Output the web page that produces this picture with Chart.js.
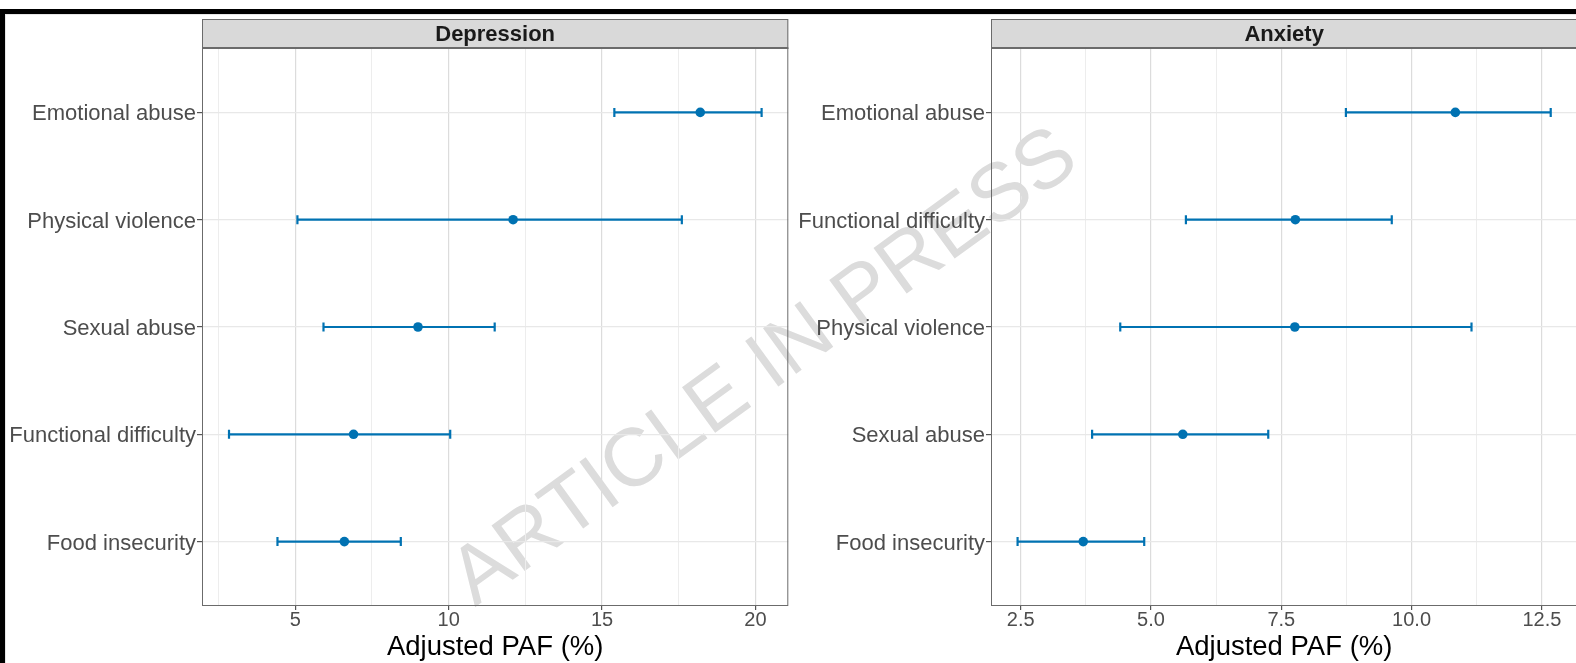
<!DOCTYPE html>
<html><head><meta charset="utf-8">
<script src="https://cdn.jsdelivr.net/npm/chart.js@4.4.1/dist/chart.umd.min.js"></script>
<style>
html,body{margin:0;padding:0;width:1576px;height:663px;overflow:hidden;background:#fff;}
body{position:relative;font-family:"Liberation Sans",Arial,sans-serif;}
#wm{position:absolute;left:762px;top:364px;transform:translate(-50%,-50%) rotate(-36deg);font-size:82px;color:#dcdcdc;white-space:nowrap;z-index:0;line-height:1;}
canvas{position:absolute;top:0;z-index:1;}
#c1{left:0;}
#c2{left:790px;}
#topbar{position:absolute;left:0;top:9px;width:1576px;height:5px;background:#000;z-index:2;}
#topline{position:absolute;left:5px;top:14px;width:1571px;height:1px;background:#e6e6e6;z-index:2;}
#leftbar{position:absolute;left:0;top:9px;width:5px;height:654px;background:#000;z-index:2;}
#leftline{position:absolute;left:5px;top:14px;width:1px;height:649px;background:#e6e6e6;z-index:2;}
</style>
</head>
<body>
<div id="wm">ARTICLE IN PRESS</div>
<canvas id="c1" width="795" height="663"></canvas>
<canvas id="c2" width="794" height="663"></canvas>
<div id="topbar"></div><div id="topline"></div><div id="leftbar"></div><div id="leftline"></div>
<script>
// ---- Data ----
const depCategories = ["Emotional abuse", "Physical violence", "Sexual abuse", "Functional difficulty", "Food insecurity"];
const depEstimate = [18.2, 12.1, 9.0, 6.9, 6.6];
const depLower = [15.4, 5.07, 5.92, 2.84, 4.42];
const depUpper = [20.2, 17.6, 11.5, 10.05, 8.44];

const anxCategories = ["Emotional abuse", "Functional difficulty", "Physical violence", "Sexual abuse", "Food insecurity"];
const anxEstimate = [10.84, 7.77, 7.76, 5.61, 3.70];
const anxLower = [8.74, 5.67, 4.41, 3.87, 2.44];
const anxUpper = [12.67, 9.62, 11.15, 7.25, 4.87];

const depMajorTicks = [5, 10, 15, 20];
const depMinorTicks = [2.5, 7.5, 12.5, 17.5];
const anxMajorTicks = [2.5, 5.0, 7.5, 10.0, 12.5];
const anxMinorTicks = [3.75, 6.25, 8.75, 11.25];

const xTitle = "Adjusted PAF (%)";
// ---------------

const FAMILY = '"Liberation Sans", Arial, sans-serif';
Chart.defaults.font.family = FAMILY;
const BLUE = '#0072B2';

function makeChart(id, title, cats, est, lo, hi, major, minor, xmin, xmax, fmt, yWidth, padRight) {
  const datasets = cats.map((c, i) => ({
    type: 'scatter', showLine: true,
    data: [{x: lo[i], y: i}, {x: hi[i], y: i}],
    borderColor: BLUE, borderWidth: 2.2,
    pointStyle: 'line', rotation: 90, pointRadius: 4.5, pointHoverRadius: 4.5,
    pointBorderWidth: 2.2, pointBorderColor: BLUE, pointBackgroundColor: BLUE
  }));
  datasets.push({
    type: 'scatter',
    data: est.map((v, i) => ({x: v, y: i})),
    pointStyle: 'circle', pointRadius: 4.8, pointHoverRadius: 4.8,
    backgroundColor: BLUE, borderColor: BLUE, borderWidth: 0
  });
  const panelPlugin = {
    id: 'panel',
    afterDraw(chart) {
      const {ctx, chartArea: a} = chart;
      ctx.save();
      ctx.strokeStyle = '#6b6b6b'; ctx.lineWidth = 1;
      ctx.strokeRect(a.left + 0.5, a.top + 0.5, a.right - a.left - 1, a.bottom - a.top - 1);
      const sTop = 19;
      ctx.fillStyle = '#d9d9d9';
      ctx.fillRect(a.left, sTop, a.right - a.left, a.top - sTop);
      ctx.strokeRect(a.left + 0.5, sTop + 0.5, a.right - a.left - 1, a.top - sTop);
      ctx.beginPath(); ctx.lineWidth = 2; ctx.moveTo(a.left, a.top); ctx.lineTo(a.right, a.top); ctx.stroke();
      ctx.fillStyle = '#1a1a1a';
      ctx.font = 'bold 22px ' + FAMILY;
      ctx.textAlign = 'center'; ctx.textBaseline = 'middle';
      ctx.fillText(title, (a.left + a.right) / 2, (sTop + a.top) / 2 + 1);
      ctx.restore();
    }
  };
  return new Chart(document.getElementById(id), {
    type: 'scatter',
    data: {datasets},
    options: {
      responsive: false, animation: false, devicePixelRatio: 1,
      layout: {padding: {top: 48, right: padRight, bottom: 0, left: 0}},
      plugins: {legend: {display: false}, tooltip: {enabled: false}},
      events: [],
      scales: {
        x: {
          type: 'linear', min: xmin, max: xmax,
          afterBuildTicks: s => { s.ticks = [...minor, ...major].sort((a, b) => a - b).map(v => ({value: v})); },
          afterFit: s => { s.height = 57; s.paddingLeft = 0; s.paddingRight = 0; },
          border: {display: false},
          grid: {
            color: c => (c.tick && major.includes(c.tick.value)) ? '#dcdcdc' : '#ededed',
            lineWidth: c => (c.tick && major.includes(c.tick.value)) ? 1.2 : 1,
            tickColor: c => (c.tick && major.includes(c.tick.value)) ? '#555' : 'rgba(0,0,0,0)',
            tickLength: 4, drawTicks: true
          },
          ticks: {
            autoSkip: false, maxRotation: 0, padding: -2, color: '#4d4d4d',
            font: {size: 20},
            callback: v => major.includes(v) ? fmt(v) : ''
          },
          title: {display: true, text: xTitle, color: '#000', font: {size: 27.5}, padding: {top: 0, bottom: -1}}
        },
        y: {
          type: 'linear', min: -0.6, max: 4.6, reverse: true,
          afterBuildTicks: s => { s.ticks = cats.map((_, i) => ({value: i})); },
          afterFit: s => { s.width = yWidth; s.paddingTop = 0; s.paddingBottom = 0; },
          border: {display: false},
          grid: {color: '#e8e8e8', lineWidth: 1.2, tickColor: '#555', tickLength: 5, drawTicks: true},
          ticks: {autoSkip: false, padding: 1, labelOffset: 2, color: '#4d4d4d', font: {size: 22}, callback: v => cats[v]}
        }
      }
    },
    plugins: [panelPlugin]
  });
}

makeChart('c1', 'Depression', depCategories, depEstimate, depLower, depUpper,
  depMajorTicks, depMinorTicks, 1.96, 21.07, v => String(v), 202, 2);
makeChart('c2', 'Anxiety', anxCategories, anxEstimate, anxLower, anxUpper,
  anxMajorTicks, anxMinorTicks, 1.93, 13.18, v => v.toFixed(1), 201, 3);
</script>
</body></html>
